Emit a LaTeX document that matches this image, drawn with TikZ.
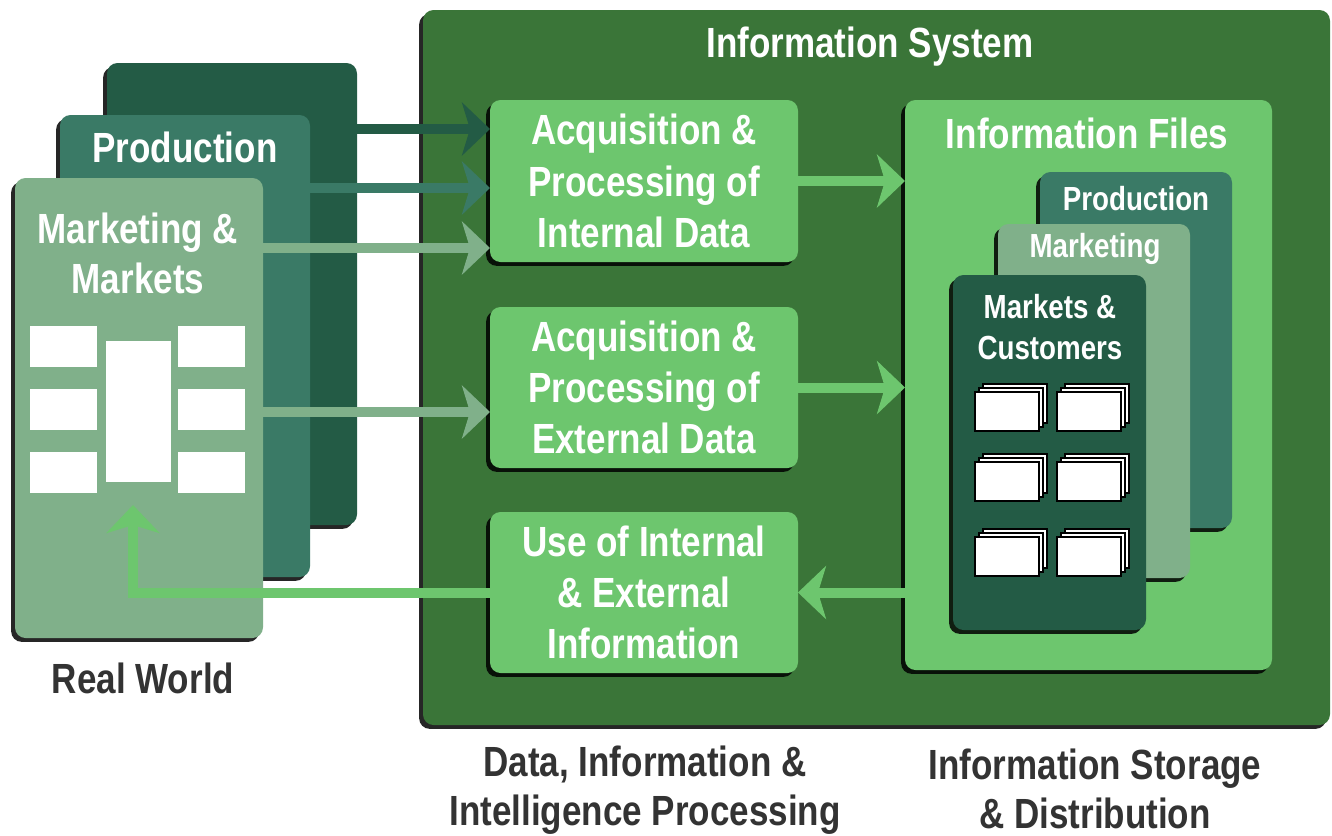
\documentclass[tikz,border=0pt]{standalone}
\usepackage{fontspec}
\setmainfont{Liberation Sans}[FakeStretch=0.83]
\usetikzlibrary{arrows.meta, positioning, fit, shadows}
\definecolor{sysGreen}{HTML}{3A7538}
\definecolor{boxGreen}{HTML}{6DC66E}
\definecolor{cardTeal}{HTML}{3A7A66}
\definecolor{cardDark}{HTML}{235B45}
\definecolor{cardSage}{HTML}{80B08A}
\definecolor{labelGrey}{HTML}{333333}

\begin{document}
\begin{tikzpicture}[x=0.01cm, y=-0.01cm,
panel/.style={rectangle, rounded corners=3pt, inner sep=0pt, outer sep=0pt, drop shadow={shadow xshift=-1.1pt, shadow yshift=-1.1pt, fill=black, opacity=0.85}},
box/.style={panel, fill=boxGreen},
boxtext/.style={text=white, align=center, font=\fontsize{12}{14.6}\selectfont\bfseries},
title/.style={text=white, align=center, font=\fontsize{12}{14.2}\selectfont\bfseries},
smalltitle/.style={text=white, align=center, font=\fontsize{9.5}{11.4}\selectfont\bfseries},
caption/.style={text=labelGrey, align=center, font=\fontsize{12}{14}\selectfont\bfseries},
flow/.style={-{Stealth[length=0.28cm, width=0.53cm, inset=0.08cm]}, line width=0.1cm},
sheet/.style={fill=white, draw=black, line width=0.4pt}
]
\useasboundingbox (0,0) rectangle (1332,835);

% information system frame
\node[panel, fill=sysGreen, fit={(423,10) (1330,725)}] (system) {};
\node[title] (sysTitle) at (870,47) {Information System};

% processing boxes
\node[box, fit={(490,100) (798,262)}] (internal) {};
\node[boxtext] (internalText) at (internal.center) {Acquisition \&\\Processing of\\Internal Data};
\node[box, fit={(490,307) (798,468)}] (external) {};
\node[boxtext] (externalText) at (external.center) {Acquisition \&\\Processing of\\External Data};
\node[box, fit={(490,512) (798,673)}] (use) {};
\node[boxtext] (useText) at (use.center) {Use of Internal\\\& External\\Information};

% information files
\node[panel, fill=boxGreen, fit={(905,100) (1272,670)}] (files) {};
\node[title] (filesTitle) at (1087,133) {Information Files};
\node[panel, fill=cardTeal, fit={(1040,172) (1232,528)}] (fileProd) {};
\node[smalltitle] (fileProdTitle) at (1136,199) {Production};
\node[panel, fill=cardSage, fit={(998,224) (1190,578)}] (fileMkt) {};
\node[smalltitle] (fileMktTitle) at (1095,249) {Marketing};
\node[panel, fill=cardDark, fit={(953,275) (1146,630)}] (fileCust) {};
\node[smalltitle] (fileCustTitle) at (1050,327) {Markets \&\\Customers};
\foreach \sx in {975,1057}
  \foreach \sy in {392,462,537}
    \foreach \k in {8,4,0}
      \draw[sheet] (\sx+\k,\sy-\k) rectangle ++(64,39);

% real world
\node[panel, fill=cardDark, fit={(107,63) (357,525)}] (rwBack) {};
\node[panel, fill=cardTeal, fit={(60,115) (310,577)}] (rwProd) {};
\node[title] (rwProdTitle) at (185,147) {Production};
\node[panel, fill=cardSage, fit={(15,178) (263,638)}] (rwMkt) {};
\node[title] (rwMktTitle) at (138,253) {Marketing \&\\Markets};
\foreach \ry in {326,389,452} {
  \fill[white] (30,\ry) rectangle ++(67,41);
  \fill[white] (178,\ry) rectangle ++(67,41);
}
\fill[white] (106,341) rectangle (171,482);
\node[caption] (rwCap) at (143,678) {Real World};

% connectors
\coordinate (rowA) at (0,129);
\coordinate (rowB) at (0,188);
\coordinate (rowC) at (0,248);
\coordinate (rowD) at (0,412);
\coordinate (fbTip) at (133,505);
\draw[flow, cardDark] (rwBack.east |- rowA) -- (internal.west |- rowA);
\draw[flow, cardTeal] (rwProd.east |- rowB) -- (internal.west |- rowB);
\draw[flow, cardSage] (rwMkt.east |- rowC) -- (internal.west |- rowC);
\draw[flow, cardSage] (rwMkt.east |- rowD) -- (external.west |- rowD);
\draw[flow, boxGreen] (internal.east) -- (files.west |- internal.east);
\draw[flow, boxGreen] (external.east) -- (files.west |- external.east);
\draw[flow, boxGreen] (files.west |- use.east) -- (use.east);
\draw[flow, boxGreen] (use.west) -| (fbTip);

% captions
\node[caption] (procCap) at (645,790) {Data, Information \&\\Intelligence Processing};
\node[caption] (storeCap) at (1095,789) {Information Storage\\\& Distribution};
\end{tikzpicture}
\end{document}
